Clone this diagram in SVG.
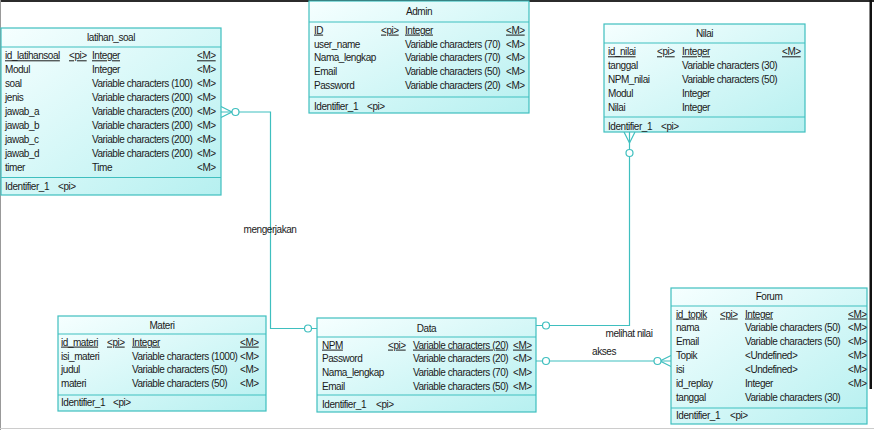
<svg xmlns="http://www.w3.org/2000/svg" width="874" height="430" viewBox="0 0 874 430">
<defs>
<linearGradient id="fill" x1="0" y1="0" x2="1" y2="1">
<stop offset="0" stop-color="#F6FFFF"/>
<stop offset="1" stop-color="#B6F0F0"/>
</linearGradient>
</defs>
<style>
.box{fill:url(#fill);stroke:#3FBFBF;stroke-width:1.2}
.sep{stroke:#3FBFBF;stroke-width:1.2}
text{font-family:"Liberation Sans",Arial,sans-serif;font-size:10px;letter-spacing:-0.45px;fill:#1a1a1a}
.t{text-anchor:middle}
.u{text-decoration:underline}
.c{fill:none;stroke:#3FBFBF;stroke-width:1.2}
.o{fill:#fff;stroke:#3FBFBF;stroke-width:1.2}
.lbl{text-anchor:middle}
</style>
<rect x="0" y="0" width="874" height="430" fill="#fff"/>
<rect x="0" y="0" width="874" height="2" fill="#2b2b2b"/>
<rect x="0" y="0" width="1" height="430" fill="#999"/>
<rect x="869.5" y="0" width="2.5" height="389" fill="#111"/>
<rect x="0" y="428" width="874" height="1" fill="#ccc"/>

<g id="connectors">
<!-- mengerjakan -->
<polyline class="c" points="221,112 270.5,112 270.5,328.5 317,328.5"/>
<path class="c" d="M221,106.5 L232,112 L221,117.5"/>
<circle class="o" cx="235.5" cy="112" r="3.5"/>
<circle class="o" cx="308" cy="328.5" r="3.5"/>
<text class="lbl" x="270" y="232.5">mengerjakan</text>
<!-- melihat nilai -->
<polyline class="c" points="629.5,132 629.5,325.5 536,325.5"/>
<path class="c" d="M624,132 L629.5,143 L635,132"/>
<circle class="o" cx="629.5" cy="153" r="3.5"/>
<circle class="o" cx="546" cy="325.5" r="3.5"/>
<text class="lbl" x="629" y="336.5">melihat nilai</text>
<!-- akses -->
<line class="c" x1="536" y1="361" x2="671" y2="361"/>
<path class="c" d="M671,355.5 L660,361 L671,366.5"/>
<circle class="o" cx="546" cy="361" r="3.5"/>
<circle class="o" cx="657.5" cy="361" r="3.5"/>
<text class="lbl" x="604" y="354.5">akses</text>
</g>

<g id="latihan_soal">
<rect class="box" x="1" y="28" width="220" height="167"/>
<line class="sep" x1="1" y1="47" x2="221" y2="47"/>
<line class="sep" x1="1" y1="177.5" x2="221" y2="177.5"/>
<text class="t" x="111" y="41">latihan_soal</text>
<text class="u" x="5" y="59.3">id_latihansoal</text><text class="u" x="69" y="59.3">&lt;pi&gt;</text><text class="u" x="92" y="59.3">Integer</text><text class="u" x="197" y="59.3">&lt;M&gt;</text>
<text x="5" y="73.2">Modul</text><text x="92" y="73.2">Integer</text><text x="197" y="73.2">&lt;M&gt;</text>
<text x="5" y="87.1">soal</text><text x="92" y="87.1">Variable characters (100)</text><text x="197" y="87.1">&lt;M&gt;</text>
<text x="5" y="101">jenis</text><text x="92" y="101">Variable characters (200)</text><text x="197" y="101">&lt;M&gt;</text>
<text x="5" y="114.9">jawab_a</text><text x="92" y="114.9">Variable characters (200)</text><text x="197" y="114.9">&lt;M&gt;</text>
<text x="5" y="128.8">jawab_b</text><text x="92" y="128.8">Variable characters (200)</text><text x="197" y="128.8">&lt;M&gt;</text>
<text x="5" y="142.7">jawab_c</text><text x="92" y="142.7">Variable characters (200)</text><text x="197" y="142.7">&lt;M&gt;</text>
<text x="5" y="156.6">jawab_d</text><text x="92" y="156.6">Variable characters (200)</text><text x="197" y="156.6">&lt;M&gt;</text>
<text x="5" y="170.5">timer</text><text x="92" y="170.5">Time</text><text x="197" y="170.5">&lt;M&gt;</text>
<text x="5" y="190.3">Identifier_1</text><text x="58" y="190.3">&lt;pi&gt;</text>
</g>

<g id="Admin">
<rect class="box" x="309" y="1" width="220" height="112"/>
<line class="sep" x1="309" y1="22" x2="529" y2="22"/>
<line class="sep" x1="309" y1="97" x2="529" y2="97"/>
<text class="t" x="419" y="15.3">Admin</text>
<text class="u" x="314" y="33.6">ID</text><text class="u" x="381" y="33.6">&lt;pi&gt;</text><text class="u" x="405" y="33.6">Integer</text><text class="u" x="506" y="33.6">&lt;M&gt;</text>
<text x="314" y="47.5">user_name</text><text x="405" y="47.5">Variable characters (70)</text><text x="506" y="47.5">&lt;M&gt;</text>
<text x="314" y="61.4">Nama_lengkap</text><text x="405" y="61.4">Variable characters (70)</text><text x="506" y="61.4">&lt;M&gt;</text>
<text x="314" y="75.3">Email</text><text x="405" y="75.3">Variable characters (50)</text><text x="506" y="75.3">&lt;M&gt;</text>
<text x="314" y="89.2">Password</text><text x="405" y="89.2">Variable characters (20)</text><text x="506" y="89.2">&lt;M&gt;</text>
<text x="314" y="109.5">Identifier_1</text><text x="367" y="109.5">&lt;pi&gt;</text>
</g>

<g id="Nilai">
<rect class="box" x="604" y="24" width="201" height="108"/>
<line class="sep" x1="604" y1="43" x2="805" y2="43"/>
<line class="sep" x1="604" y1="117" x2="805" y2="117"/>
<text class="t" x="704.5" y="36.6">Nilai</text>
<text class="u" x="608" y="55.3">id_nilai</text><text class="u" x="657" y="55.3">&lt;pi&gt;</text><text class="u" x="682" y="55.3">Integer</text><text class="u" x="782" y="55.3">&lt;M&gt;</text>
<text x="608" y="69.2">tanggal</text><text x="682" y="69.2">Variable characters (30)</text>
<text x="608" y="83.1">NPM_nilai</text><text x="682" y="83.1">Variable characters (50)</text>
<text x="608" y="97">Modul</text><text x="682" y="97">Integer</text>
<text x="608" y="110.9">Nilai</text><text x="682" y="110.9">Integer</text>
<text x="608" y="129.5">Identifier_1</text><text x="661" y="129.5">&lt;pi&gt;</text>
</g>

<g id="Materi">
<rect class="box" x="58" y="316" width="208" height="95"/>
<line class="sep" x1="58" y1="334" x2="266" y2="334"/>
<line class="sep" x1="58" y1="395" x2="266" y2="395"/>
<text class="t" x="162" y="328.8">Materi</text>
<text class="u" x="61" y="345.6">id_materi</text><text class="u" x="107" y="345.6">&lt;pi&gt;</text><text class="u" x="132" y="345.6">Integer</text><text class="u" x="240" y="345.6">&lt;M&gt;</text>
<text x="61" y="359.5">isi_materi</text><text x="132" y="359.5">Variable characters (1000)</text><text x="240" y="359.5">&lt;M&gt;</text>
<text x="61" y="373.4">judul</text><text x="132" y="373.4">Variable characters (50)</text><text x="240" y="373.4">&lt;M&gt;</text>
<text x="61" y="387.3">materi</text><text x="132" y="387.3">Variable characters (50)</text><text x="240" y="387.3">&lt;M&gt;</text>
<text x="61" y="405.6">Identifier_1</text><text x="113" y="405.6">&lt;pi&gt;</text>
</g>

<g id="Data">
<rect class="box" x="317" y="318" width="219" height="94"/>
<line class="sep" x1="317" y1="337" x2="536" y2="337"/>
<line class="sep" x1="317" y1="395" x2="536" y2="395"/>
<text class="t" x="426.5" y="331.8">Data</text>
<text class="u" x="322" y="348.6">NPM</text><text class="u" x="388" y="348.6">&lt;pi&gt;</text><text class="u" x="413" y="348.6">Variable characters (20)</text><text class="u" x="513" y="348.6">&lt;M&gt;</text>
<text x="322" y="362.3">Password</text><text x="413" y="362.3">Variable characters (20)</text><text x="513" y="362.3">&lt;M&gt;</text>
<text x="322" y="376.1">Nama_lengkap</text><text x="413" y="376.1">Variable characters (70)</text><text x="513" y="376.1">&lt;M&gt;</text>
<text x="322" y="389.9">Email</text><text x="413" y="389.9">Variable characters (50)</text><text x="513" y="389.9">&lt;M&gt;</text>
<text x="322" y="407.8">Identifier_1</text><text x="376" y="407.8">&lt;pi&gt;</text>
</g>

<g id="Forum">
<rect class="box" x="671" y="288" width="196" height="136"/>
<line class="sep" x1="671" y1="306" x2="867" y2="306"/>
<line class="sep" x1="671" y1="408" x2="867" y2="408"/>
<text class="t" x="769" y="299.5">Forum</text>
<text class="u" x="676" y="317.5">id_topik</text><text class="u" x="720" y="317.5">&lt;pi&gt;</text><text class="u" x="745" y="317.5">Integer</text><text class="u" x="848" y="317.5">&lt;M&gt;</text>
<text x="676" y="331.3">nama</text><text x="745" y="331.3">Variable characters (50)</text><text x="848" y="331.3">&lt;M&gt;</text>
<text x="676" y="345.2">Email</text><text x="745" y="345.2">Variable characters (50)</text><text x="848" y="345.2">&lt;M&gt;</text>
<text x="676" y="359.1">Topik</text><text x="745" y="359.1">&lt;Undefined&gt;</text><text x="848" y="359.1">&lt;M&gt;</text>
<text x="676" y="373">isi</text><text x="745" y="373">&lt;Undefined&gt;</text><text x="848" y="373">&lt;M&gt;</text>
<text x="676" y="386.9">id_replay</text><text x="745" y="386.9">Integer</text><text x="848" y="386.9">&lt;M&gt;</text>
<text x="676" y="400.8">tanggal</text><text x="745" y="400.8">Variable characters (30)</text>
<text x="676" y="419.3">Identifier_1</text><text x="730" y="419.3">&lt;pi&gt;</text>
</g>
</svg>
